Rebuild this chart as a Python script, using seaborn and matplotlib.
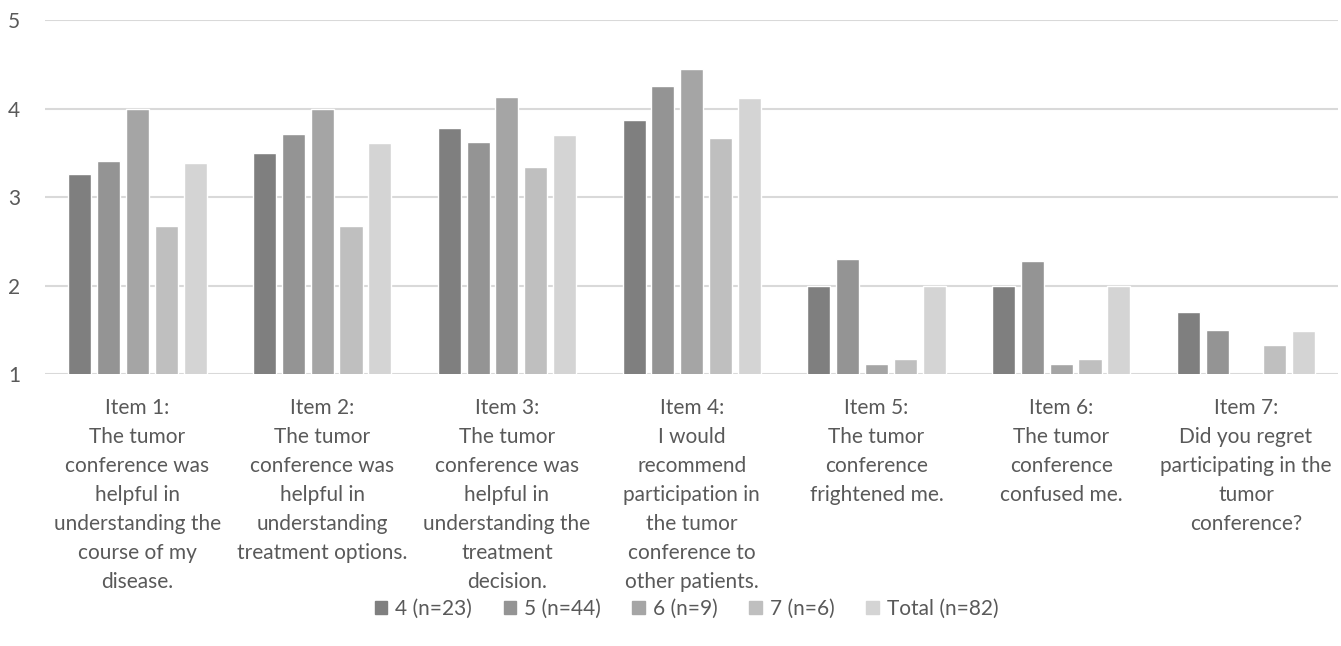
import matplotlib
matplotlib.use("Agg")
import matplotlib.pyplot as plt
import seaborn as sns
import pandas as pd
import numpy as np

categories = [
    "Item 1:\nThe tumor\nconference was\nhelpful in\nunderstanding the\ncourse of my\ndisease.",
    "Item 2:\nThe tumor\nconference was\nhelpful in\nunderstanding\ntreatment options.",
    "Item 3:\nThe tumor\nconference was\nhelpful in\nunderstanding the\ntreatment\ndecision.",
    "Item 4:\nI would\nrecommend\nparticipation in\nthe tumor\nconference to\nother patients.",
    "Item 5:\nThe tumor\nconference\nfrightened me.",
    "Item 6:\nThe tumor\nconference\nconfused me.",
    "Item 7:\nDid you regret\nparticipating in the\ntumor\nconference?",
]
series_names = ["4 (n=23)", "5 (n=44)", "6 (n=9)", "7 (n=6)", "Total (n=82)"]
vals_4 = [3.26, 3.50, 3.78, 3.87, 2.00, 2.00, 1.70]
vals_5 = [3.41, 3.71, 3.62, 4.25, 2.30, 2.28, 1.50]
vals_6 = [4.00, 4.00, 4.13, 4.45, 1.11, 1.11, np.nan]
vals_7 = [2.67, 2.67, 3.34, 3.67, 1.17, 1.17, 1.33]
vals_total = [3.38, 3.61, 3.70, 4.12, 2.00, 2.00, 1.49]
colors = ["#7f7f7f", "#949494", "#a5a5a5", "#bfbfbf", "#d4d4d4"]

rows = []
for name, vals in zip(series_names, [vals_4, vals_5, vals_6, vals_7, vals_total]):
    for c, v in zip(categories, vals):
        rows.append({"item": c, "group": name, "value": v})
df = pd.DataFrame(rows)

sns.set_theme(style="white")
plt.rcParams["font.family"] = ["Lato", "DejaVu Sans"]

fig = plt.figure(figsize=(13.41, 6.46), dpi=100)
ax = fig.add_axes([0.0336, 0.421, 0.9644, 0.548])

sns.barplot(data=df, x="item", y="value", hue="group", order=categories,
            hue_order=series_names, palette=colors, width=0.78, gap=0.2,
            saturation=1, errorbar=None, ax=ax, zorder=3)

ax.set_ylim(1, 5)
ax.set_yticks([1, 2, 3, 4, 5])
ax.set_xlim(-0.5, len(categories) - 0.5)
ax.yaxis.grid(True, color="#d9d9d9", linewidth=1.5, zorder=0)
ax.set_axisbelow(True)
for s in ax.spines.values():
    s.set_visible(False)
ax.set_xlabel("")
ax.set_ylabel("")
ax.tick_params(axis="x", length=0, pad=17, labelsize=15, labelcolor="#595959")
ax.tick_params(axis="y", length=0, pad=18, labelsize=15, labelcolor="#595959")
for lbl in ax.get_xticklabels():
    lbl.set_linespacing(1.57)

ax.get_legend().remove()
handles = [plt.Rectangle((0, 0), 1, 1, color=c) for c in colors]
fig.legend(handles, series_names, loc="center", bbox_to_anchor=(0.512, 0.057),
           ncol=5, frameon=False, fontsize=15, labelcolor="#595959",
           handlelength=0.6, handleheight=0.6, handletextpad=0.4, columnspacing=1.5)

fig.savefig("out.png", dpi=100, facecolor="white")
